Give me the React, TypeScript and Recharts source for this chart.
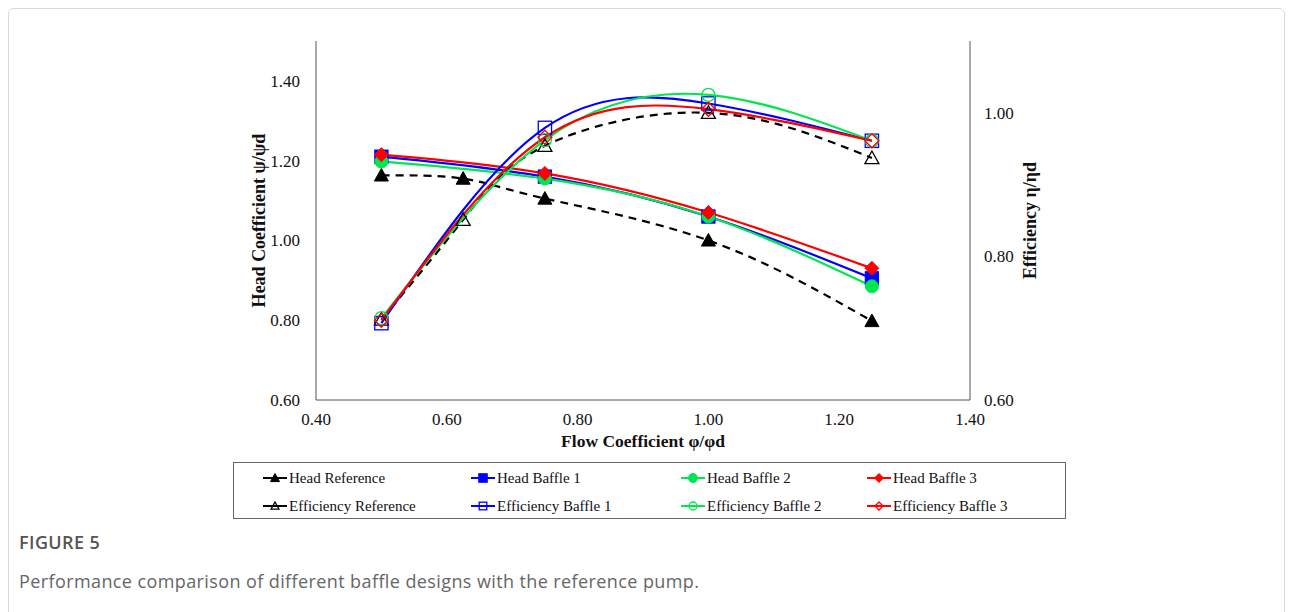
import { LineChart, Line, XAxis, YAxis } from 'recharts';

const flowReference = [0.5, 0.625, 0.75, 1.0, 1.25];
const flowBaffle = [0.5, 0.75, 1.0, 1.25];

const headReference = [1.163, 1.155, 1.105, 1.0, 0.798];
const headBaffle1 = [1.21, 1.16, 1.06, 0.905];
const headBaffle2 = [1.198, 1.155, 1.06, 0.885];
const headBaffle3 = [1.215, 1.168, 1.07, 0.93];

const effReference = [0.712, 0.851, 0.954, 1.0, 0.937];
const effBaffle1 = [0.707, 0.979, 1.013, 0.961];
const effBaffle2 = [0.714, 0.962, 1.025, 0.961];
const effBaffle3 = [0.711, 0.966, 1.005, 0.961];

const xTicks = [0.4, 0.6, 0.8, 1.0, 1.2, 1.4];
const headTicks = [0.6, 0.8, 1.0, 1.2, 1.4];
const effTicks = [0.6, 0.8, 1.0];

const BLACK = '#000000';
const BLUE = '#0000ff';
const GREEN = '#00e650';
const RED = '#ff0000';
const SERIF = '"Liberation Serif", "Times New Roman", serif';

type Shape = 'triangle' | 'square' | 'circle' | 'diamond';

interface Series {
  name: string;
  x: number[];
  y: number[];
  axis: 'head' | 'eff';
  color: string;
  shape: Shape;
  filled: boolean;
  dashed: boolean;
}

const series: Series[] = [
  { name: 'Head Reference', x: flowReference, y: headReference, axis: 'head', color: BLACK, shape: 'triangle', filled: true, dashed: true },
  { name: 'Head Baffle 1', x: flowBaffle, y: headBaffle1, axis: 'head', color: BLUE, shape: 'square', filled: true, dashed: false },
  { name: 'Head Baffle 2', x: flowBaffle, y: headBaffle2, axis: 'head', color: GREEN, shape: 'circle', filled: true, dashed: false },
  { name: 'Head Baffle 3', x: flowBaffle, y: headBaffle3, axis: 'head', color: RED, shape: 'diamond', filled: true, dashed: false },
  { name: 'Efficiency Reference', x: flowReference, y: effReference, axis: 'eff', color: BLACK, shape: 'triangle', filled: false, dashed: true },
  { name: 'Efficiency Baffle 1', x: flowBaffle, y: effBaffle1, axis: 'eff', color: BLUE, shape: 'square', filled: false, dashed: false },
  { name: 'Efficiency Baffle 2', x: flowBaffle, y: effBaffle2, axis: 'eff', color: GREEN, shape: 'circle', filled: false, dashed: false },
  { name: 'Efficiency Baffle 3', x: flowBaffle, y: effBaffle3, axis: 'eff', color: RED, shape: 'diamond', filled: false, dashed: false },
];

function Marker({ cx, cy, shape, color, filled, r }: { cx: number; cy: number; shape: Shape; color: string; filled: boolean; r: number }) {
  const fill = filled ? color : 'none';
  const sw = filled ? 1 : 1.3;
  if (shape === 'triangle') {
    const pts = `${cx},${cy - r} ${cx + r},${cy + r * 0.8} ${cx - r},${cy + r * 0.8}`;
    return <polygon points={pts} fill={fill} stroke={color} strokeWidth={sw} />;
  }
  if (shape === 'square') {
    const s = r * 0.95;
    return <rect x={cx - s} y={cy - s} width={s * 2} height={s * 2} fill={fill} stroke={color} strokeWidth={sw} />;
  }
  if (shape === 'circle') {
    return <circle cx={cx} cy={cy} r={r} fill={fill} stroke={color} strokeWidth={sw} />;
  }
  const pts = `${cx},${cy - r} ${cx + r},${cy} ${cx},${cy + r} ${cx - r},${cy}`;
  return <polygon points={pts} fill={fill} stroke={color} strokeWidth={sw} />;
}

function LegendItem({ s }: { s: Series }) {
  return (
    <div style={{ display: 'flex', alignItems: 'center', height: 20 }}>
      <svg width={24} height={14} style={{ marginRight: 2 }}>
        <line x1={0} y1={7} x2={24} y2={7} stroke={s.color} strokeWidth={2} />
        <Marker cx={12} cy={7} shape={s.shape} color={s.color} filled={s.filled} r={s.filled ? 4.5 : 4} />
      </svg>
      <span>{s.name}</span>
    </div>
  );
}

const legendCols = [29, 237, 447, 633];

const tickStyle = { fill: '#111', fontSize: 17, fontFamily: SERIF };
const titleStyle = { fill: '#111', fontSize: 18, fontWeight: 'bold', fontFamily: SERIF };

export default function App() {
  const lineData = series.map((s) => s.x.map((x, i) => ({ x, y: s.y[i] })));
  return (
    <div
      style={{
        position: 'relative',
        width: 1277,
        height: 640,
        border: '1px solid #d9d9d9',
        borderRadius: 6,
        background: '#fff',
        overflow: 'hidden',
        boxSizing: 'border-box',
      }}
    >
      <div style={{ position: 'absolute', left: 0, top: 0 }}>
        <LineChart width={1275} height={445} margin={{ top: 32, right: 254, bottom: 14, left: 247 }}>
          <XAxis
            xAxisId="x"
            type="number"
            dataKey="x"
            domain={[0.4, 1.4]}
            ticks={xTicks}
            allowDuplicatedCategory={false}
            tickFormatter={(v: number) => v.toFixed(2)}
            tick={tickStyle}
            stroke="#555"
            tickLine={false}
            tickSize={0}
            tickMargin={13}
            height={40}
            label={{ value: 'Flow Coefficient φ/φd', position: 'insideBottom', offset: -7, ...titleStyle, fontSize: 17.5 }}
          />
          <XAxis
            xAxisId="top"
            orientation="top"
            type="number"
            domain={[0.4, 1.4]}
            tick={false}
            tickLine={false}
            stroke="#555"
            height={0}
          />
          <YAxis
            yAxisId="head"
            type="number"
            domain={[0.6, 1.5]}
            ticks={headTicks}
            tickFormatter={(v: number) => v.toFixed(2)}
            tick={tickStyle}
            stroke="#555"
            tickLine={false}
            tickSize={0}
            tickMargin={16}
            width={60}
            label={{ value: 'Head Coefficient ψ/ψd', angle: -90, position: 'insideLeft', offset: 3, style: { textAnchor: 'middle' }, ...titleStyle }}
          />
          <YAxis
            yAxisId="eff"
            orientation="right"
            type="number"
            domain={[0.6, 1.1]}
            ticks={effTicks}
            tickFormatter={(v: number) => v.toFixed(2)}
            tick={tickStyle}
            stroke="#555"
            tickLine={false}
            tickSize={0}
            tickMargin={14}
            width={60}
            label={{ value: 'Efficiency η/ηd', angle: -90, position: 'insideRight', offset: 0, style: { textAnchor: 'middle' }, ...titleStyle }}
          />
          {series.map((s, k) => (
            <Line
              key={s.name}
              xAxisId="x"
              yAxisId={s.axis}
              data={lineData[k]}
              dataKey="y"
              type="natural"
              stroke={s.color}
              strokeWidth={2.2}
              strokeDasharray={s.dashed ? '8 6' : undefined}
              isAnimationActive={false}
              activeDot={false}
              dot={(p: any) => (
                <Marker
                  key={`${s.name}-${p.index}`}
                  cx={p.cx}
                  cy={p.cy}
                  shape={s.shape}
                  color={s.color}
                  filled={s.filled}
                  r={s.shape === 'circle' ? 6.5 : 7}
                />
              )}
            />
          ))}
        </LineChart>
      </div>

      <div
        style={{
          position: 'absolute',
          left: 224,
          top: 453,
          width: 833,
          height: 57,
          border: '1px solid #666',
          boxSizing: 'border-box',
          fontFamily: SERIF,
          fontSize: 15,
          color: '#111',
        }}
      >
        {series.map((s, i) => (
          <div
            key={s.name}
            style={{ position: 'absolute', left: legendCols[i % 4], top: i < 4 ? 5 : 33 }}
          >
            <LegendItem s={s} />
          </div>
        ))}
      </div>

      <div
        style={{
          position: 'absolute',
          left: 10,
          top: 521,
          fontFamily: '"Open Sans", "Noto Sans", sans-serif',
          color: '#555',
        }}
      >
        <div style={{ fontSize: 18, fontWeight: 600, lineHeight: '24px', letterSpacing: 0.4 }}>FIGURE 5</div>
        <div style={{ fontSize: 18, lineHeight: '24px', marginTop: 15, color: '#666', letterSpacing: 0.4 }}>
          Performance comparison of different baffle designs with the reference pump.
        </div>
      </div>
    </div>
  );
}
